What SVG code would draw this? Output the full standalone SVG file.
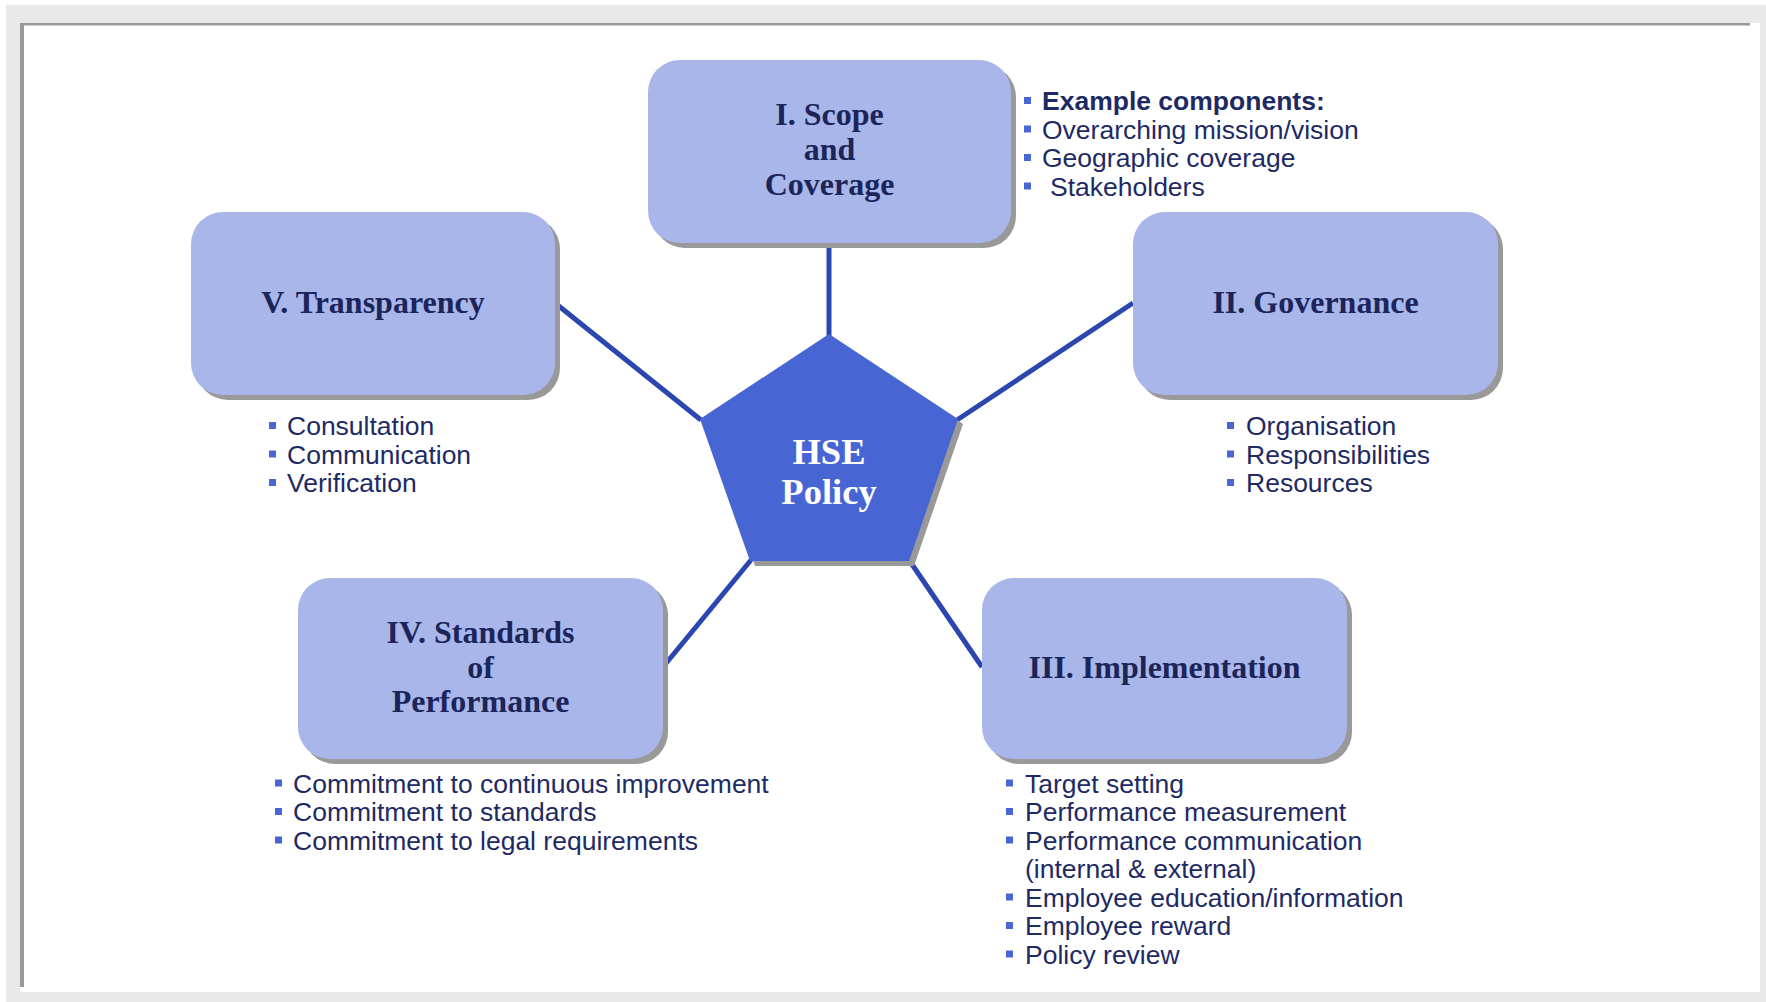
<svg xmlns="http://www.w3.org/2000/svg" width="1766" height="1002" viewBox="0 0 1766 1002">
<defs>
<style>
.box{fill:#a9b6ea}
.shadow{fill:#999999}
.title{font-family:"Liberation Serif","Times New Roman",serif;font-weight:bold;font-size:32px;fill:#1b2559;text-anchor:middle}
.center{font-family:"Liberation Serif","Times New Roman",serif;font-weight:bold;font-size:36.5px;fill:#ffffff;text-anchor:middle}
.item{font-family:"Liberation Sans",Arial,sans-serif;font-size:26.5px;fill:#1e2a64}
.bold{font-weight:bold}
.bul{fill:#4a66d4}
.conn{stroke:#2c46b0;stroke-width:5;fill:none}
</style>
</defs>
<rect x="0" y="0" width="1766" height="1002" fill="#ffffff"/>
<rect x="6" y="5" width="1760" height="997" fill="#e9e9e9"/>
<rect x="20" y="23" width="1740" height="969" fill="#ffffff"/>
<rect x="20" y="23" width="1730" height="2.5" fill="#999999"/>
<rect x="20" y="23" width="4" height="964" fill="#999999"/>

<g id="connectors">
<line class="conn" x1="829" y1="243" x2="829" y2="336"/>
<line class="conn" x1="555" y1="303" x2="701" y2="420"/>
<line class="conn" x1="1133" y1="303" x2="957" y2="420"/>
<line class="conn" x1="751" y1="560" x2="663" y2="667"/>
<line class="conn" x1="909" y1="560" x2="982" y2="667"/>
</g>

<g id="hse-policy">
<polygon class="shadow" points="834,339 963,424 914,566 755,566 705,424"/>
<polygon fill="#4865d4" points="829,334 958,419 909,561 750,561 700,419"/>
<text class="center" x="829" y="464">HSE</text>
<text class="center" x="829" y="504">Policy</text>
</g>

<g id="scope">
<rect class="shadow" x="653" y="65" width="363" height="183" rx="32"/>
<rect class="box" x="648" y="60" width="363" height="183" rx="32"/>
<text class="title" x="829.5" y="125">I. Scope</text>
<text class="title" x="829.5" y="160">and</text>
<text class="title" x="829.5" y="195">Coverage</text>
</g>
<g id="scope-list">
<rect class="bul" x="1024" y="97" width="7" height="7"/>
<rect class="bul" x="1024" y="125.5" width="7" height="7"/>
<rect class="bul" x="1024" y="154" width="7" height="7"/>
<rect class="bul" x="1024" y="182.5" width="7" height="7"/>
<text class="item bold" x="1042" y="110">Example components:</text>
<text class="item" x="1042" y="138.5">Overarching mission/vision</text>
<text class="item" x="1042" y="167">Geographic coverage</text>
<text class="item" x="1050" y="195.5">Stakeholders</text>
</g>

<g id="transparency">
<rect class="shadow" x="196" y="217" width="364" height="183" rx="32"/>
<rect class="box" x="191" y="212" width="364" height="183" rx="32"/>
<text class="title" x="373" y="313">V. Transparency</text>
</g>
<g id="transparency-list">
<rect class="bul" x="269" y="422" width="7" height="7"/>
<rect class="bul" x="269" y="450.5" width="7" height="7"/>
<rect class="bul" x="269" y="479" width="7" height="7"/>
<text class="item" x="287" y="435">Consultation</text>
<text class="item" x="287" y="463.5">Communication</text>
<text class="item" x="287" y="492">Verification</text>
</g>

<g id="governance">
<rect class="shadow" x="1138" y="217" width="365" height="183" rx="32"/>
<rect class="box" x="1133" y="212" width="365" height="183" rx="32"/>
<text class="title" x="1315.5" y="313">II. Governance</text>
</g>
<g id="governance-list">
<rect class="bul" x="1227" y="422" width="7" height="7"/>
<rect class="bul" x="1227" y="450.5" width="7" height="7"/>
<rect class="bul" x="1227" y="479" width="7" height="7"/>
<text class="item" x="1246" y="435">Organisation</text>
<text class="item" x="1246" y="463.5">Responsibilities</text>
<text class="item" x="1246" y="492">Resources</text>
</g>

<g id="standards">
<rect class="shadow" x="303" y="583" width="365" height="181" rx="32"/>
<rect class="box" x="298" y="578" width="365" height="181" rx="32"/>
<text class="title" x="480.5" y="643">IV. Standards</text>
<text class="title" x="480.5" y="677.5">of</text>
<text class="title" x="480.5" y="712">Performance</text>
</g>
<g id="standards-list">
<rect class="bul" x="275" y="779.5" width="7" height="7"/>
<rect class="bul" x="275" y="808" width="7" height="7"/>
<rect class="bul" x="275" y="836.5" width="7" height="7"/>
<text class="item" x="293" y="792.5">Commitment to continuous improvement</text>
<text class="item" x="293" y="821">Commitment to standards</text>
<text class="item" x="293" y="849.5">Commitment to legal requirements</text>
</g>

<g id="implementation">
<rect class="shadow" x="987" y="583" width="365" height="181" rx="32"/>
<rect class="box" x="982" y="578" width="365" height="181" rx="32"/>
<text class="title" x="1164.5" y="678">III. Implementation</text>
</g>
<g id="implementation-list">
<rect class="bul" x="1006" y="779.5" width="7" height="7"/>
<rect class="bul" x="1006" y="808" width="7" height="7"/>
<rect class="bul" x="1006" y="836.5" width="7" height="7"/>
<rect class="bul" x="1006" y="893.5" width="7" height="7"/>
<rect class="bul" x="1006" y="922" width="7" height="7"/>
<rect class="bul" x="1006" y="950.5" width="7" height="7"/>
<text class="item" x="1025" y="792.5">Target setting</text>
<text class="item" x="1025" y="821">Performance measurement</text>
<text class="item" x="1025" y="849.5">Performance communication</text>
<text class="item" x="1025" y="878">(internal &amp; external)</text>
<text class="item" x="1025" y="906.5">Employee education/information</text>
<text class="item" x="1025" y="935">Employee reward</text>
<text class="item" x="1025" y="963.5">Policy review</text>
</g>
</svg>
